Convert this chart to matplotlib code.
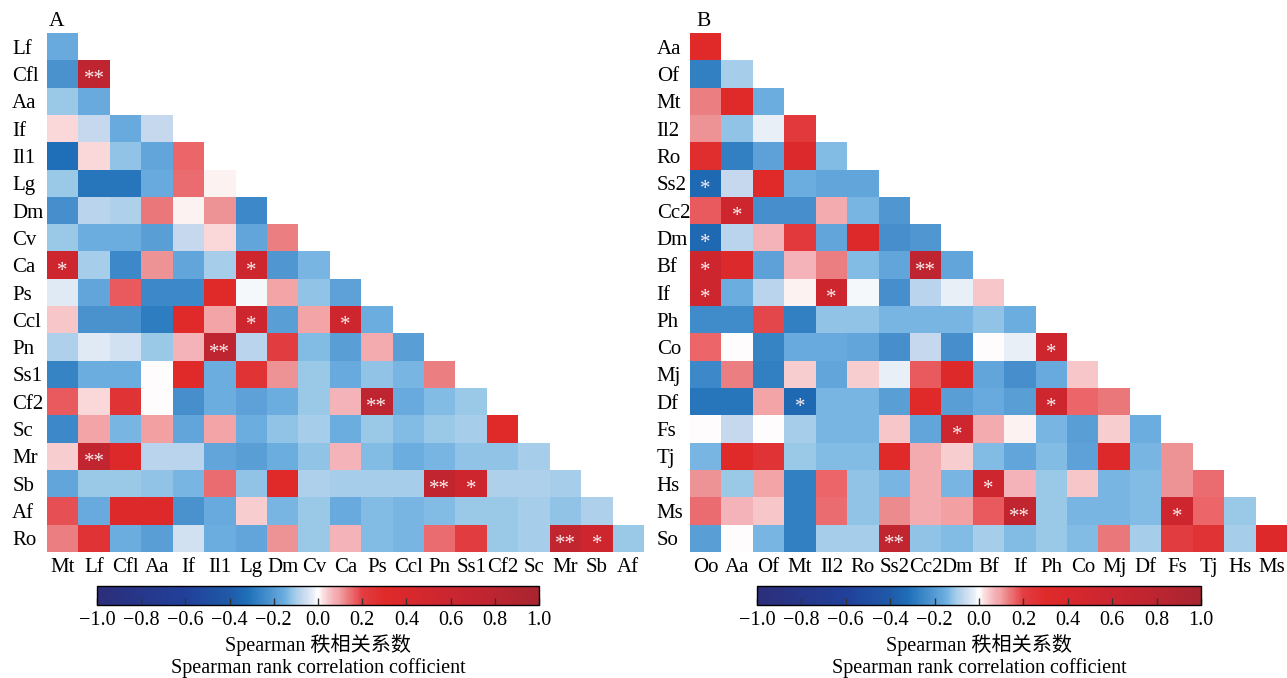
import numpy as np
import matplotlib
matplotlib.use('Agg')
import matplotlib.pyplot as plt
from matplotlib.colors import LinearSegmentedColormap, Normalize
from matplotlib.cm import ScalarMappable

plt.rcParams['font.family'] = ['Liberation Serif', 'Noto Sans CJK SC']
plt.rcParams['axes.unicode_minus'] = True

# ---------------- Panel A data ----------------
A_rows = ['Lf', 'Cfl', 'Aa', 'If', 'Il1', 'Lg', 'Dm', 'Cv', 'Ca', 'Ps', 'Ccl', 'Pn',
          'Ss1', 'Cf2', 'Sc', 'Mr', 'Sb', 'Af', 'Ro']
A_cols = ['Mt', 'Lf', 'Cfl', 'Aa', 'If', 'Il1', 'Lg', 'Dm', 'Cv', 'Ca', 'Ps', 'Ccl',
          'Pn', 'Ss1', 'Cf2', 'Sc', 'Mr', 'Sb', 'Af']
A_vals = [
    [-0.16],
    [-0.22, 0.75],
    [-0.11, -0.16],
    [0.03, -0.07, -0.16, -0.07],
    [-0.32, 0.03, -0.12, -0.17, 0.16],
    [-0.11, -0.30, -0.30, -0.16, 0.15, 0.01],
    [-0.23, -0.08, -0.09, 0.14, 0.01, 0.11, -0.25],
    [-0.11, -0.15, -0.15, -0.19, -0.07, 0.03, -0.17, 0.13],
    [0.55, -0.10, -0.25, 0.11, -0.17, -0.10, 0.55, -0.21, -0.14],
    [-0.03, -0.17, 0.17, -0.25, -0.25, 0.30, -0.01, 0.09, -0.12, -0.18],
    [0.05, -0.22, -0.22, -0.28, 0.30, 0.09, 0.55, -0.19, 0.09, 0.55, -0.15],
    [-0.09, -0.03, -0.05, -0.11, 0.07, 0.75, -0.08, 0.20, -0.13, -0.19, 0.08, -0.19],
    [-0.26, -0.15, -0.15, 0.00, 0.30, -0.15, 0.25, 0.11, -0.11, -0.16, -0.12, -0.14, 0.13],
    [0.17, 0.03, 0.25, 0.00, -0.23, -0.15, -0.18, -0.15, -0.11, 0.07, 0.75, -0.16, -0.13, -0.11],
    [-0.25, 0.09, -0.14, 0.10, -0.17, 0.09, -0.15, -0.12, -0.10, -0.15, -0.11, -0.13, -0.11, -0.10, 0.30],
    [0.04, 0.72, 0.32, -0.08, -0.08, -0.17, -0.19, -0.15, -0.12, 0.07, -0.13, -0.15, -0.14, -0.12, -0.12, -0.10],
    [-0.17, -0.11, -0.11, -0.12, -0.14, 0.15, -0.12, 0.30, -0.09, -0.10, -0.10, -0.10, 0.72, 0.55, -0.09, -0.09, -0.10],
    [0.18, -0.16, 0.32, 0.32, -0.22, -0.16, 0.04, -0.14, -0.11, -0.16, -0.13, -0.14, -0.13, -0.11, -0.11, -0.10, -0.12, -0.09],
    [0.13, 0.25, -0.15, -0.19, -0.05, -0.15, -0.17, 0.11, -0.11, 0.07, -0.13, -0.14, 0.15, 0.20, -0.11, -0.10, 0.72, 0.55, -0.11],
]
A_sig = [(1, 1, '**'), (8, 0, '*'), (8, 6, '*'), (10, 6, '*'), (10, 9, '*'),
         (11, 5, '**'), (13, 10, '**'), (15, 1, '**'), (16, 12, '**'),
         (16, 13, '*'), (18, 16, '**'), (18, 17, '*')]

# ---------------- Panel B data ----------------
B_rows = ['Aa', 'Of', 'Mt', 'Il2', 'Ro', 'Ss2', 'Cc2', 'Dm', 'Bf', 'If', 'Ph', 'Co',
          'Mj', 'Df', 'Fs', 'Tj', 'Hs', 'Ms', 'So']
B_cols = ['Oo', 'Aa', 'Of', 'Mt', 'Il2', 'Ro', 'Ss2', 'Cc2', 'Dm', 'Bf', 'If', 'Ph',
          'Co', 'Mj', 'Df', 'Fs', 'Tj', 'Hs', 'Ms']
B_vals = [
    [0.30],
    [-0.27, -0.10],
    [0.13, 0.30, -0.15],
    [0.11, -0.12, -0.02, 0.22],
    [0.28, -0.27, -0.18, 0.35, -0.13],
    [-0.34, -0.07, 0.30, -0.15, -0.17, -0.17],
    [0.17, 0.55, -0.23, -0.23, 0.08, -0.14, -0.21],
    [-0.34, -0.08, 0.07, 0.22, -0.17, 0.32, -0.23, -0.21],
    [0.55, 0.35, -0.18, 0.07, 0.13, -0.13, -0.17, 0.75, -0.17],
    [0.55, -0.15, -0.08, 0.01, 0.55, -0.01, -0.23, -0.08, -0.02, 0.05],
    [-0.24, -0.24, 0.19, -0.27, -0.12, -0.12, -0.14, -0.14, -0.14, -0.12, -0.15],
    [0.16, 0.00, -0.26, -0.16, -0.16, -0.17, -0.23, -0.07, -0.23, 0.00, -0.02, 0.55],
    [-0.25, 0.13, -0.27, 0.04, -0.17, 0.04, -0.02, 0.17, 0.32, -0.17, -0.23, -0.16, 0.05],
    [-0.30, -0.30, 0.09, -0.34, -0.14, -0.14, -0.19, 0.30, -0.19, -0.16, -0.19, 0.55, 0.16, 0.14],
    [0.00, -0.07, 0.00, -0.10, -0.14, -0.14, 0.05, -0.17, 0.55, 0.08, 0.01, -0.14, -0.19, 0.04, -0.15],
    [-0.14, 0.30, 0.25, -0.11, -0.13, -0.13, 0.30, 0.08, 0.04, -0.13, -0.17, -0.13, -0.18, 0.32, -0.14, 0.11],
    [0.11, -0.11, 0.09, -0.27, 0.16, -0.12, -0.14, 0.08, -0.14, 0.55, 0.07, -0.11, 0.05, -0.14, -0.13, 0.11, 0.15],
    [0.15, 0.07, 0.05, -0.27, 0.15, -0.12, 0.12, 0.08, 0.10, 0.17, 0.72, -0.11, -0.14, -0.14, -0.13, 0.55, 0.16, -0.11],
    [-0.19, 0.00, -0.14, -0.27, -0.10, -0.10, 0.72, -0.12, -0.13, -0.10, -0.13, -0.11, -0.13, 0.14, -0.10, 0.20, 0.25, -0.10, 0.32],
]
B_sig = [(5, 0, '*'), (6, 1, '*'), (7, 0, '*'), (8, 0, '*'), (8, 7, '**'),
         (9, 0, '*'), (9, 4, '*'), (11, 11, '*'), (13, 3, '*'), (13, 11, '*'),
         (14, 8, '*'), (16, 9, '*'), (17, 10, '**'), (17, 15, '*'), (18, 6, '**')]

cbar_ticks = [-1.0, -0.8, -0.6, -0.4, -0.2, 0.0, 0.2, 0.4, 0.6, 0.8, 1.0]
cbar_label_cn = 'Spearman 秩相关系数'
cbar_label_en = 'Spearman rank correlation cofficient'

# ---------------- colormap ----------------
nodes = [(-1.0, '#2c2e7a'), (-0.6, '#21409a'), (-0.4, '#1f5aa8'), (-0.32, '#1f6fb8'),
         (-0.25, '#3c88c8'), (-0.19, '#5a9ed6'), (-0.15, '#6caee0'), (-0.11, '#9ccae8'),
         (-0.07, '#c4d8ee'), (-0.03, '#e0eaf5'), (0.0, '#ffffff'), (0.03, '#fad8da'),
         (0.07, '#f4b2b8'), (0.10, '#f2a0a2'), (0.13, '#ea8082'), (0.16, '#ec6468'),
         (0.20, '#e23e42'), (0.30, '#e02a2a'), (0.55, '#ce2630'), (0.75, '#c02530'),
         (1.0, '#a82530')]
cmap = LinearSegmentedColormap.from_list(
    'spear', [((v + 1) / 2, c) for v, c in nodes], N=512)
cmap.set_bad((1, 1, 1, 0))
norm = Normalize(-1, 1)

W, H = 1287, 678
fig = plt.figure(figsize=(W / 100, H / 100), dpi=100)


def px(x0, y0, x1, y1):
    return [x0 / W, 1 - y1 / H, (x1 - x0) / W, (y1 - y0) / H]


def panel(rect, rows, cols, vals, sig, cax_rect, letter, letter_xy, ypad):
    M = np.full((len(rows), len(cols)), np.nan)
    for i, r in enumerate(vals):
        M[i, :len(r)] = r
    ax = fig.add_axes(rect)
    ax.imshow(np.ma.masked_invalid(M), cmap=cmap, norm=norm, aspect='auto',
              interpolation='nearest')
    ax.set_xticks(range(len(cols)))
    ax.set_xticklabels(cols, fontsize=15)
    ax.set_yticks(range(len(rows)))
    ax.set_yticklabels(rows, fontsize=15, ha='left')
    ax.tick_params(axis='both', length=0)
    ax.tick_params(axis='x', pad=4)
    ax.tick_params(axis='y', pad=ypad)
    for s in ax.spines.values():
        s.set_visible(False)
    for i, j, m in sig:
        ax.text(j, i + 0.22, m, ha='center', va='center', color='#fbeeee',
                fontsize=15)
    fig.text(letter_xy[0] / W, 1 - letter_xy[1] / H, letter, ha='center',
             va='center', fontsize=15.5)

    cax = fig.add_axes(cax_rect)
    cb = fig.colorbar(ScalarMappable(norm=norm, cmap=cmap), cax=cax,
                      orientation='horizontal', ticks=cbar_ticks)
    cb.ax.set_xticklabels([f'{t:.1f}'.replace('-', '\u2212') for t in cbar_ticks],
                          fontsize=14.5)
    cb.ax.tick_params(direction='in', length=5, width=1, color='#333333', pad=4)
    cb.outline.set_linewidth(1)
    cx = cax_rect[0] + cax_rect[2] / 2
    fig.text(cx, 1 - 645 / H, cbar_label_cn, ha='center', va='center', fontsize=14.5)
    fig.text(cx, 1 - 668 / H, cbar_label_en, ha='center', va='center', fontsize=14.5)


panel(px(47, 33, 644, 552), A_rows, A_cols, A_vals, A_sig,
      px(97, 586, 539, 605), 'A', (57, 21), 25)
panel(px(690, 33, 1287, 552), B_rows, B_cols, B_vals, B_sig,
      px(757, 586, 1201, 605), 'B', (704, 21), 24)

fig.savefig('out.png', dpi=100)
